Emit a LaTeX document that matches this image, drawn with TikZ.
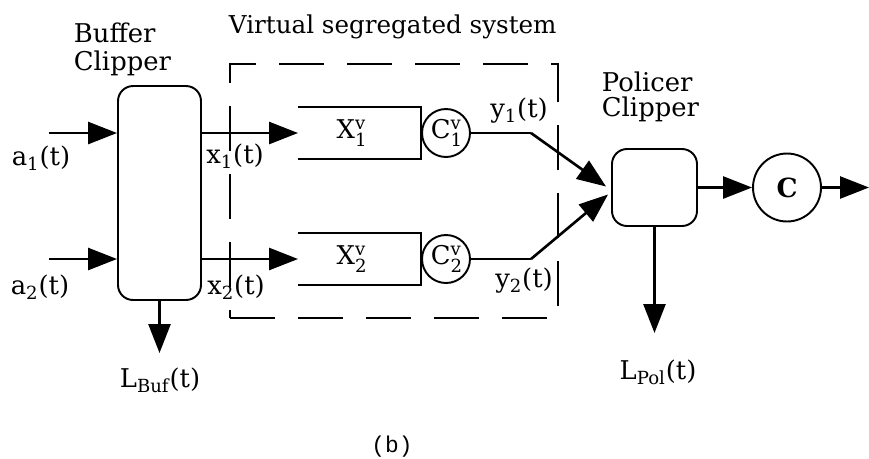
\documentclass[tikz,border=0pt]{standalone}
\usepackage{amsmath}
\usepackage{fontspec}
\setmainfont{DejaVu Serif}
\setmonofont{Liberation Mono}
\usepackage{tikz}
\usetikzlibrary{arrows.meta}

\begin{document}
\begin{tikzpicture}[
  x=0.02cm, y=-0.02cm,
  font=\fontsize{14.7}{17}\selectfont,
  line width=1.1pt,
  arr/.style={-{Triangle[length=5.8mm, width=4.4mm]}, line width=1.5pt},
  clipbox/.style={draw, rounded corners=3mm, inner sep=0pt},
  srv/.style={draw, circle, inner sep=0pt},
  queue/.style={inner sep=0pt, minimum width=2.42cm, minimum height=1cm},
  head/.style={anchor=base west, inner sep=0pt},
  vbox/.style={draw, dash pattern=on 0.9cm off 0.46cm, inner sep=0pt,
               minimum width=6.56cm, minimum height=5.08cm}
]
\useasboundingbox (0,0) rectangle (869,458);

% clippers
\node[clipbox, minimum width=1.66cm, minimum height=4.28cm] (buf) at (159.5,193) {};
\node[clipbox, minimum width=1.7cm, minimum height=1.54cm] (pol) at (654.5,187.5) {};
\node[head] (buft) at (73,42) {Buffer};
\node[head] (bufc) at (73,70) {Clipper};
\node[head] (polt) at (601,91) {Policer};
\node[head] (polc) at (601,116) {Clipper};

% virtual segregated system
\node[vbox] (vss) at (394,191) {};
\node[head, font=\fontsize{14}{16}\selectfont] (vsst) at (228,33) {Virtual segregated system};

\node[queue] (q1) at (359.5,133) {};
\node[queue] (q2) at (359.5,259) {};
\draw (q1.north west) -- (q1.north east) -- (q1.south east) -- (q1.south west);
\draw (q2.north west) -- (q2.north east) -- (q2.south east) -- (q2.south west);
\node (q1l) at (352,133) {X$^{\text{v}}_{\text{1}}$};
\node (q2l) at (352,259) {X$^{\text{v}}_{\text{2}}$};
\node[srv, minimum size=0.96cm] (c1) at (446,133) {};
\node[srv, minimum size=0.96cm] (c2) at (446,259) {};
\node (c1l) at (447,133) {C$^{\text{v}}_{\text{1}}$};
\node (c2l) at (447,259) {C$^{\text{v}}_{\text{2}}$};

\node[srv, minimum size=1.36cm, font=\fontsize{15}{17}\bfseries] (cout) at (787,187.5) {C};

% inputs and losses
\coordinate (a1) at (49,133);
\coordinate (a2) at (49,259);
\coordinate (lbuf) at (159.5,353);
\coordinate (lpol) at (654.5,333);
\coordinate (k1) at (531,133);
\coordinate (k2) at (531,259);
\coordinate (out) at (869,187.5);

\draw[arr] (a1) -- (a1 -| buf.west);
\draw[arr] (a2) -- (a2 -| buf.west);
\draw[arr] (buf.east |- q1.west) -- (q1.west);
\draw[arr] (buf.east |- q2.west) -- (q2.west);
\draw[arr] (buf.south) -- (lbuf);
\draw (c1.east) -- (k1);
\draw (c2.east) -- (k2);
\draw[arr] (k1) -- ([shift={(-5,-1)}]pol.west);
\draw[arr] (k2) -- ([shift={(-3,7)}]pol.west);
\draw[arr] (pol.east) -- (cout.west);
\draw[arr] (cout.east) -- (out);
\draw[arr] (pol.south) -- (lpol);

% labels
\node (a1l) at (41,158) {a$_{\text{1}}$(t)};
\node (a2l) at (40,287) {a$_{\text{2}}$(t)};
\node (x1l) at (235,156) {x$_{\text{1}}$(t)};
\node (x2l) at (236,287) {x$_{\text{2}}$(t)};
\node (y1l) at (519,111) {y$_{\text{1}}$(t)};
\node (y2l) at (524,281) {y$_{\text{2}}$(t)};
\node (lbufl) at (160,380) {L$_{\text{Buf}}$(t)};
\node (lpoll) at (658,372) {L$_{\text{Pol}}$(t)};

\node[font=\ttfamily\fontsize{13}{16}\selectfont] (cap) at (392,447) {(b)};
\end{tikzpicture}
\end{document}
